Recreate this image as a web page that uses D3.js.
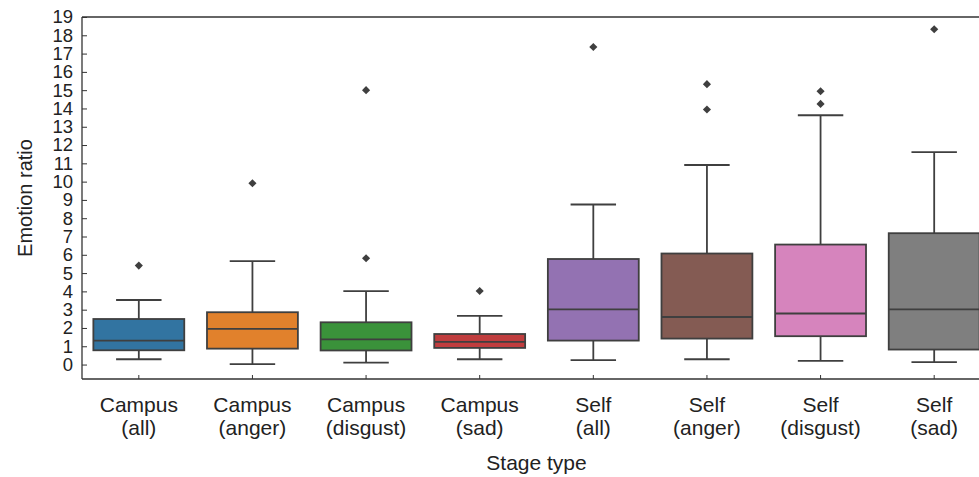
<!DOCTYPE html>
<html>
<head>
<meta charset="utf-8">
<script src="https://cdn.jsdelivr.net/npm/d3@7"></script>
<style>
  body { margin: 0; background: #fff; }
  svg { display: block; font-family: "Liberation Sans", Arial, sans-serif; }
  .tick text { fill: #222; }
</style>
</head>
<body>
<svg id="chart" width="979" height="477"></svg>
<script>
  /***** Data *****/
  var categories = ["Campus (all)", "Campus (anger)", "Campus (disgust)", "Campus (sad)",
                    "Self (all)", "Self (anger)", "Self (disgust)", "Self (sad)"];
  var whiskerLow  = [0.29, 0.02, 0.11, 0.29, 0.24, 0.29, 0.20, 0.13];
  var q1          = [0.78, 0.87, 0.77, 0.91, 1.31, 1.42, 1.55, 0.82];
  var medians     = [1.31, 1.95, 1.38, 1.24, 3.02, 2.60, 2.79, 3.02];
  var q3          = [2.49, 2.86, 2.31, 1.67, 5.77, 6.07, 6.56, 7.18];
  var whiskerHigh = [3.53, 5.65, 4.01, 2.66, 8.75, 10.91, 13.63, 11.61];
  var outliers    = [[5.41], [9.91], [5.81, 15.0], [4.02], [17.36], [15.33, 13.94], [14.94, 14.25], [18.33]];
  var colors = ["#3274a1", "#e1812c", "#3a923a", "#c03d3e", "#9372b2", "#845b53", "#d684bd", "#7f7f7f"];
  var yTicks = d3.range(0, 20);

  /***** Configuration *****/
  var margin = {top: 17, left: 82},
      width = 909,
      height = 362;
  var lineColor = "#3f3f3f";

  var svg = d3.select("#chart");
  var g = svg.append("g")
    .attr("transform", "translate(" + margin.left + "," + margin.top + ")");

  /***** Scales *****/
  var x = d3.scaleBand().domain(categories).range([0, width]);
  var y = d3.scaleLinear().domain([-0.79, 19]).range([height, 0]);
  var boxW = x.bandwidth() * 0.8;
  var capW = boxW / 2;

  /***** Axes *****/
  var yAxis = d3.axisLeft(y).tickValues(yTicks).tickSize(-5).tickPadding(9);
  var yAxisGroup = g.append("g").call(yAxis);
  yAxisGroup.select(".domain").remove();
  yAxisGroup.selectAll(".tick line").attr("stroke", "#333");
  yAxisGroup.selectAll(".tick text").attr("font-size", 18.5);

  var xAxis = d3.axisBottom(x).tickSize(-4).tickFormat("");
  var xAxisGroup = g.append("g").attr("transform", "translate(0," + height + ")").call(xAxis);
  xAxisGroup.select(".domain").remove();
  xAxisGroup.selectAll(".tick line").attr("stroke", "#333");

  // Two-line category labels
  xAxisGroup.selectAll(".tick").each(function (d) {
    var parts = d.split(" ");
    var t = d3.select(this).append("text")
      .attr("text-anchor", "middle")
      .attr("font-size", 21)
      .attr("fill", "#222");
    t.append("tspan").attr("x", 0).attr("y", 32.7).text(parts[0]);
    t.append("tspan").attr("x", 0).attr("y", 56).text(parts[1]);
  });

  /***** Boxes *****/
  var boxes = g.selectAll(".box")
    .data(categories)
    .enter().append("g")
    .attr("class", "box")
    .attr("transform", function (d) { return "translate(" + (x(d) + x.bandwidth() / 2) + ",0)"; });

  // whiskers
  boxes.append("line")
    .attr("y1", function (d, i) { return y(whiskerLow[i]); })
    .attr("y2", function (d, i) { return y(q1[i]); })
    .attr("stroke", lineColor).attr("stroke-width", 1.8);
  boxes.append("line")
    .attr("y1", function (d, i) { return y(q3[i]); })
    .attr("y2", function (d, i) { return y(whiskerHigh[i]); })
    .attr("stroke", lineColor).attr("stroke-width", 1.8);
  // caps
  boxes.append("line")
    .attr("x1", -capW / 2).attr("x2", capW / 2)
    .attr("y1", function (d, i) { return y(whiskerLow[i]); })
    .attr("y2", function (d, i) { return y(whiskerLow[i]); })
    .attr("stroke", lineColor).attr("stroke-width", 1.8);
  boxes.append("line")
    .attr("x1", -capW / 2).attr("x2", capW / 2)
    .attr("y1", function (d, i) { return y(whiskerHigh[i]); })
    .attr("y2", function (d, i) { return y(whiskerHigh[i]); })
    .attr("stroke", lineColor).attr("stroke-width", 1.8);
  // box
  boxes.append("rect")
    .attr("x", -boxW / 2)
    .attr("width", boxW)
    .attr("y", function (d, i) { return y(q3[i]); })
    .attr("height", function (d, i) { return y(q1[i]) - y(q3[i]); })
    .attr("fill", function (d, i) { return colors[i]; })
    .attr("stroke", lineColor).attr("stroke-width", 1.8);
  // median
  boxes.append("line")
    .attr("x1", -boxW / 2).attr("x2", boxW / 2)
    .attr("y1", function (d, i) { return y(medians[i]); })
    .attr("y2", function (d, i) { return y(medians[i]); })
    .attr("stroke", lineColor).attr("stroke-width", 1.8);
  // outliers (diamonds)
  var diamond = d3.symbol().type(d3.symbolDiamond2).size(42);
  boxes.each(function (d, i) {
    d3.select(this).selectAll("path.out")
      .data(outliers[i])
      .enter().append("path")
      .attr("class", "out")
      .attr("d", diamond)
      .attr("transform", function (v) { return "translate(0," + y(v) + ")"; })
      .attr("fill", lineColor);
  });

  /***** Spines *****/
  g.append("line").attr("x1", 0).attr("x2", 0).attr("y1", 0).attr("y2", height)
    .attr("stroke", "#333").attr("stroke-width", 1.3);
  g.append("line").attr("x1", 0).attr("x2", width).attr("y1", 0).attr("y2", 0)
    .attr("stroke", "#333").attr("stroke-width", 1.3);
  g.append("line").attr("x1", 0).attr("x2", width).attr("y1", height).attr("y2", height)
    .attr("stroke", "#333").attr("stroke-width", 1.3);

  /***** Axis titles *****/
  svg.append("text")
    .attr("x", margin.left + x(categories[4]))
    .attr("y", 469.5)
    .attr("text-anchor", "middle")
    .attr("font-size", 21)
    .attr("fill", "#222")
    .text("Stage type");

  svg.append("text")
    .attr("transform", "translate(32," + (margin.top + height / 2) + ") rotate(-90)")
    .attr("text-anchor", "middle")
    .attr("font-size", 20)
    .attr("fill", "#222")
    .text("Emotion ratio");
</script>
</body>
</html>
